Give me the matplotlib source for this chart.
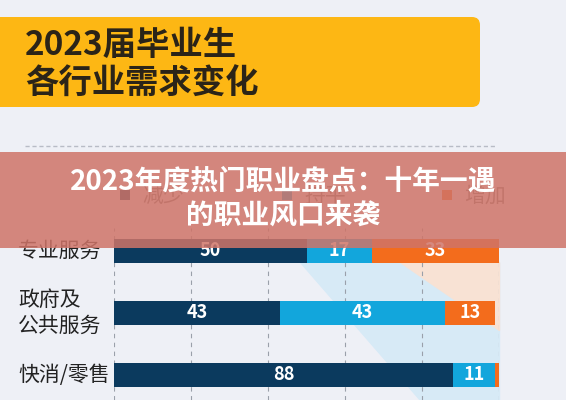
import matplotlib.pyplot as plt
from matplotlib.patches import Rectangle, FancyBboxPatch

plt.rcParams['font.family'] = ['Noto Sans CJK SC', 'DejaVu Sans']

# data
industries = ['专业服务', '政府及\n公共服务', '快消/零售']
decrease = [50, 43, 88]
flat = [17, 43, 11]
increase = [33, 13, 1]
legend_labels = ['减少', '持平', '增加']
colors = ['#0b3a5e', '#12a6dc', '#f36c1c']

W, H = 566, 400
fig = plt.figure(figsize=(W / 100, H / 100), dpi=100)
fig.patch.set_facecolor('#eef0f6')

# decoration layer in pixel coordinates
bg = fig.add_axes([0, 0, 1, 1])
bg.set_xlim(0, W)
bg.set_ylim(H, 0)
bg.axis('off')

bg.add_patch(FancyBboxPatch((-20, 17), 500, 90, boxstyle='round,pad=0,rounding_size=8',
                            fc='#fdb714', ec='none'))
bg.text(25, 45, '2023届毕业生', fontsize=24, fontweight='bold', color='#2b2418', va='center')
bg.text(25, 84, '各行业需求变化', fontsize=24, fontweight='bold', color='#2b2418', va='center')
bg.plot([25, 497], [146, 146], ls=(0, (3, 2)), color='#b8bcc6', lw=1)

# light diagonal shading behind bars
bg.fill([300, 499, 499, 420], [262, 262, 400, 400], color='#d7eaf6', zorder=0)
bg.fill([400, 499, 499], [262, 262, 330], color='#f8e2d4', zorder=0)

# legend row
for x, lab, c in zip([120, 282, 442], legend_labels, colors):
    bg.add_patch(Rectangle((x, 190), 10, 10, fc=c, ec='none'))
    bg.text(x + 22, 196, lab, fontsize=15, color='#777777', va='center')

# row labels
rows_y = [251, 313, 375]
for y, name in zip(rows_y, industries):
    bg.text(18, y, name, fontsize=15, color='#222222', va='center', linespacing=1.25)

# bars
ax = fig.add_axes([114 / W, 0, 385 / W, 1 - 228 / H])
ax.set_xlim(0, 100)
ax.set_ylim(400, 228)
ax.patch.set_alpha(0)
for s in ax.spines.values():
    s.set_visible(False)
ax.set_xticks([])
ax.set_yticks([])
for gx in [0, 20, 40, 60, 80, 100]:
    ax.axvline(gx, color='#9aa0aa', lw=0.8, ls=(0, (4, 4)), zorder=0)

left = [0, 0, 0]
for vals, c in zip([decrease, flat, increase], colors):
    ax.barh(rows_y, vals, left=left, height=24, color=c, zorder=2)
    for y, v, l in zip(rows_y, vals, left):
        if v >= 5:
            ax.text(l + v / 2, y, str(v), color='white', fontsize=13, fontweight='bold',
                    ha='center', va='center', zorder=3)
    left = [a + b for a, b in zip(left, vals)]

# overlay banner
ov = fig.add_axes([0, 0, 1, 1])
ov.set_xlim(0, W)
ov.set_ylim(H, 0)
ov.axis('off')
ov.patch.set_alpha(0)
ov.add_patch(Rectangle((0, 152), W, 96, fc='#cf7468', ec='none', alpha=0.85))
ov.text(283, 182, '2023年度热门职业盘点：十年一遇', fontsize=20, fontweight='heavy',
        color='white', ha='center', va='center')
ov.text(283, 216, '的职业风口来袭', fontsize=20, fontweight='heavy',
        color='white', ha='center', va='center')

fig.savefig('out.png', dpi=100)
